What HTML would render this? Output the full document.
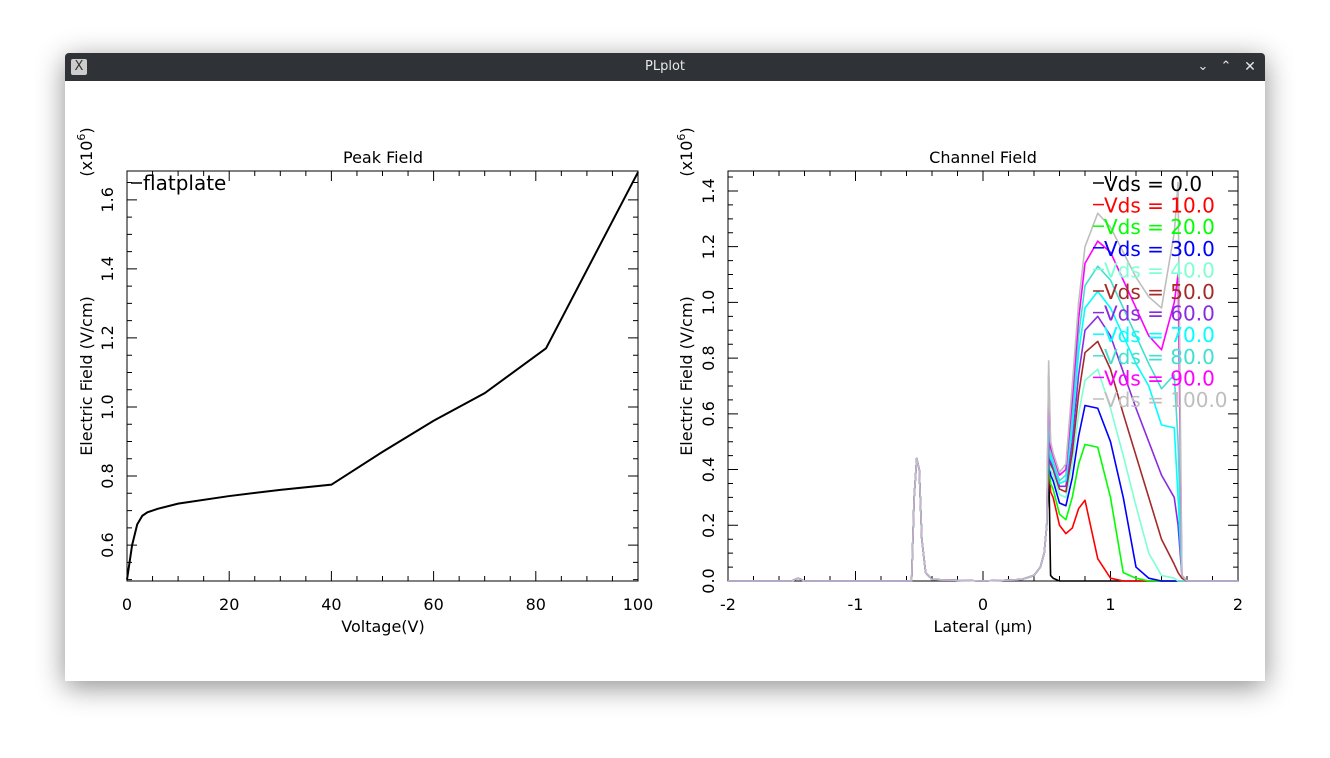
<!DOCTYPE html>
<html><head><meta charset="utf-8"><style>
html,body{margin:0;padding:0;background:#fff;width:1330px;height:758px;overflow:hidden;font-family:"DejaVu Sans","Liberation Sans",sans-serif}
#win{position:absolute;left:65px;top:53px;width:1200px;height:628px;background:#fff;box-shadow:0 6px 28px rgba(0,0,0,0.45);border-radius:4px 4px 0 0}
#bar{position:absolute;left:0;top:0;width:1200px;height:28px;background:#2f3337;border-radius:4px 4px 0 0;color:#e8e8e8;font-size:13px;text-align:center;line-height:28px}
svg{position:absolute;left:0;top:0}
</style></head><body>
<div id="win">
<div id="bar">PLplot
<div style="position:absolute;left:6px;top:6px;width:16px;height:16px;background:#ccc;border-radius:2px;color:#333;font-size:13px;line-height:16px">X</div>
<div style="position:absolute;left:1130px;top:0;width:16px;font-size:13px">&#8964;</div>
<div style="position:absolute;left:1153px;top:0;width:16px;font-size:13px">&#8963;</div>
<div style="position:absolute;left:1177px;top:0;width:16px;font-size:14px">&#10005;</div>
</div></div>
<svg id="svg" width="1330" height="758" xmlns="http://www.w3.org/2000/svg" font-family="DejaVu Sans, Liberation Sans, sans-serif"></svg>
<script>
// Left chart data
const peakV = [0,1,2,3,4,6,10,20,30,40,50,60,70,82,100];
const peakE = [0.5,0.6,0.66,0.685,0.695,0.705,0.72,0.742,0.76,0.775,0.87,0.96,1.04,1.17,1.68];
const leftXTicks = [0,20,40,60,80,100];
const leftYTicks = [0.6,0.8,1.0,1.2,1.4,1.6];
// Right chart data
const latX = [-2,-1.5,-1.45,-1.4,-0.56,-0.54,-0.52,-0.5,-0.48,-0.45,-0.4,0,0.3,0.4,0.45,0.48,0.5,0.515,0.53,0.55,0.6,0.65,0.7,0.75,0.8,0.9,1.0,1.1,1.2,1.3,1.4,1.5,1.53,1.56,1.6,2];
const baseE = [0,0,0.01,0,0,0.3,0.44,0.4,0.15,0.03,0.005,0,0.005,0.02,0.05,0.1];
const vds0 = [0.2,0.44,0.02,0.01,0,0,0,0,0,0,0,0,0,0,0,0,0,0,0,0];
const vds10 = [0.2,0.44,0.32,0.30,0.20,0.17,0.19,0.26,0.29,0.08,0.01,0,0,0,0,0,0,0,0,0];
const vds20 = [0.2,0.46,0.35,0.33,0.24,0.22,0.30,0.42,0.49,0.48,0.30,0.03,0.01,0,0,0,0,0,0,0];
const vds30 = [0.2,0.5,0.38,0.36,0.28,0.27,0.37,0.52,0.63,0.62,0.5,0.3,0.05,0.01,0,0,0,0,0,0];
const vds40 = [0.2,0.55,0.40,0.38,0.31,0.30,0.42,0.6,0.72,0.76,0.62,0.45,0.27,0.1,0.02,0.01,0,0,0,0];
const vds50 = [0.2,0.58,0.42,0.40,0.33,0.32,0.46,0.67,0.82,0.86,0.76,0.6,0.45,0.3,0.15,0.06,0.03,0.01,0,0];
const vds60 = [0.2,0.62,0.43,0.41,0.34,0.34,0.5,0.74,0.9,0.95,0.88,0.75,0.62,0.5,0.38,0.3,0.2,0.02,0,0];
const vds70 = [0.2,0.66,0.44,0.42,0.35,0.36,0.55,0.82,0.98,1.04,0.98,0.88,0.78,0.7,0.56,0.55,0.3,0.02,0,0];
const vds80 = [0.2,0.7,0.46,0.43,0.36,0.38,0.6,0.88,1.06,1.13,1.08,0.98,0.88,0.78,0.69,0.74,0.5,0.02,0,0];
const vds90 = [0.2,0.74,0.48,0.45,0.38,0.40,0.65,0.94,1.14,1.22,1.18,1.08,0.98,0.88,0.83,1.0,1.1,0.02,0,0];
const vds100 = [0.2,0.79,0.5,0.46,0.39,0.42,0.7,1.0,1.2,1.32,1.27,1.18,1.09,1.02,0.98,1.25,1.43,0.02,0,0];
const seriesTails = [vds0,vds10,vds20,vds30,vds40,vds50,vds60,vds70,vds80,vds90,vds100];
const seriesNames = ["Vds = 0.0","Vds = 10.0","Vds = 20.0","Vds = 30.0","Vds = 40.0","Vds = 50.0","Vds = 60.0","Vds = 70.0","Vds = 80.0","Vds = 90.0","Vds = 100.0"];
const seriesColors = ["#000000","#ff0000","#00ff00","#0000ff","#7fffd4","#a52a2a","#8a2be2","#00ffff","#40e0d0","#ff00ff","#bebebe"];
const rightXTicks = [-2,-1,0,1,2];
const rightYTicks = [0,0.2,0.4,0.6,0.8,1.0,1.2,1.4];

const svg=document.getElementById('svg');
const NS='http://www.w3.org/2000/svg';
function mk(tag,attrs,parent,txt){const e=document.createElementNS(NS,tag);for(const k in attrs)e.setAttribute(k,attrs[k]);if(txt!==undefined)e.textContent=txt;(parent||svg).appendChild(e);return e;}

function axes(g,L,R,T,B,sx,sy,xt,xminor,x0,x1,yt,yminor,y0,y1,xfmt,yfmt){
  const box=mk('rect',{x:L,y:T,width:R-L,height:B-T,fill:'none',stroke:'#000','stroke-width':1},g);
  
  
  let d='';
  for(let v=x0;v<=x1+1e-9;v+=xminor){const px=sx(v);const maj=xt.some(t=>Math.abs(t-v)<1e-6);const l=maj?10:5;d+=`M${px},${B}v${-l}M${px},${T}v${l}`;}
  for(let v=y0;v<=y1+1e-9;v+=yminor){const py=sy(v);if(py<T-0.5)continue;const maj=yt.some(t=>Math.abs(t-v)<1e-6);const l=maj?10:5;d+=`M${L},${py}h${l}M${R},${py}h${-l}`;}
  const tk=mk('path',{d:d,stroke:'#000','stroke-width':1,fill:'none'},g);
  
  
  xt.forEach(v=>{const t=mk('text',{x:sx(v),y:B+29,'font-size':16,'text-anchor':'middle'},g,xfmt(v));
    
    });
  yt.forEach(v=>{const px=L-14,py=sy(v);const t=mk('text',{x:px,y:py,'font-size':16,'text-anchor':'middle',transform:`rotate(-90 ${px} ${py})`},g,yfmt(v));
    
    });
}
function lbl(g,x,y,s,txt,name,rot,anchor){const a={x:x,y:y,'font-size':s,'text-anchor':anchor||'middle'};if(rot)a.transform=`rotate(-90 ${x} ${y})`;const t=mk('text',a,g,txt);
  
  return t;}
function expo(g,x,y){const t=mk('text',{x:x,y:y,'font-size':16,'text-anchor':'middle',transform:`rotate(-90 ${x} ${y})`},g);
  
  
  t.innerHTML='(x10<tspan dy="-7" font-size="11">6</tspan><tspan dy="7">)</tspan>';}

// LEFT
const gl=mk('g',{});


const lL=127,lR=638,lT=171,lB=581,lymin=0.496,lymax=1.6+29/347.5;
const lsx=v=>lL+(v-0)/100*(lR-lL), lsy=v=>lB-(v-lymin)/(lymax-lymin)*(lB-lT);
axes(gl,lL,lR,lT,lB,lsx,lsy,leftXTicks,5,0,100,leftYTicks,0.05,0.5,1.7,v=>String(v),v=>v.toFixed(1));
lbl(gl,383,163,16,'Peak Field','chart-title-peak');
lbl(gl,383,632,16,'Voltage(V)','x-axis-title');
lbl(gl,92,376,16,'Electric Field (V/cm)','y-axis-title',true);
expo(gl,92,152);
const pl=mk('polyline',{points:peakV.map((v,i)=>lsx(v)+','+lsy(peakE[i])).join(' '),fill:'none',stroke:'#000','stroke-width':2},gl);


const ll=mk('line',{x1:131,x2:142,y1:183,y2:183,stroke:'#000','stroke-width':1.5},gl);


lbl(gl,143,190,20,'flatplate','legend-entry-flatplate',false,'start');

// RIGHT
const gr=mk('g',{});


const rL=728,rR=1238,rT=171,rB=581,rymin=0,rymax=410/278.6;
const rsx=v=>rL+(v+2)/4*(rR-rL), rsy=v=>rB-(v-rymin)/(rymax-rymin)*(rB-rT);
axes(gr,rL,rR,rT,rB,rsx,rsy,rightXTicks,0.2,-2,2,rightYTicks,0.05,0,1.47,v=>String(v),v=>v.toFixed(1));
lbl(gr,983,163,16,'Channel Field','chart-title-channel');
lbl(gr,983,632,16,'Lateral (\u00b5m)','x-axis-title');
lbl(gr,692,376,16,'Electric Field (V/cm)','y-axis-title',true);
expo(gr,692,152);
seriesTails.forEach((tail,i)=>{
  const vals=baseE.concat(tail);
  const p=mk('polyline',{points:latX.map((x,j)=>rsx(x)+','+rsy(vals[j])).join(' '),fill:'none',stroke:seriesColors[i],'stroke-width':1.6,'stroke-linejoin':'round'},gr);
  
  
});
seriesNames.forEach((n,i)=>{
  const y=183+i*21.6;
  const s=mk('line',{x1:1093,x2:1104,y1:y,y2:y,stroke:seriesColors[i],'stroke-width':1.5},gr);
  
  
  const t=mk('text',{x:1104,y:y+8,'font-size':20,fill:seriesColors[i]},gr,n);
  
  
});
</script>
</body></html>
